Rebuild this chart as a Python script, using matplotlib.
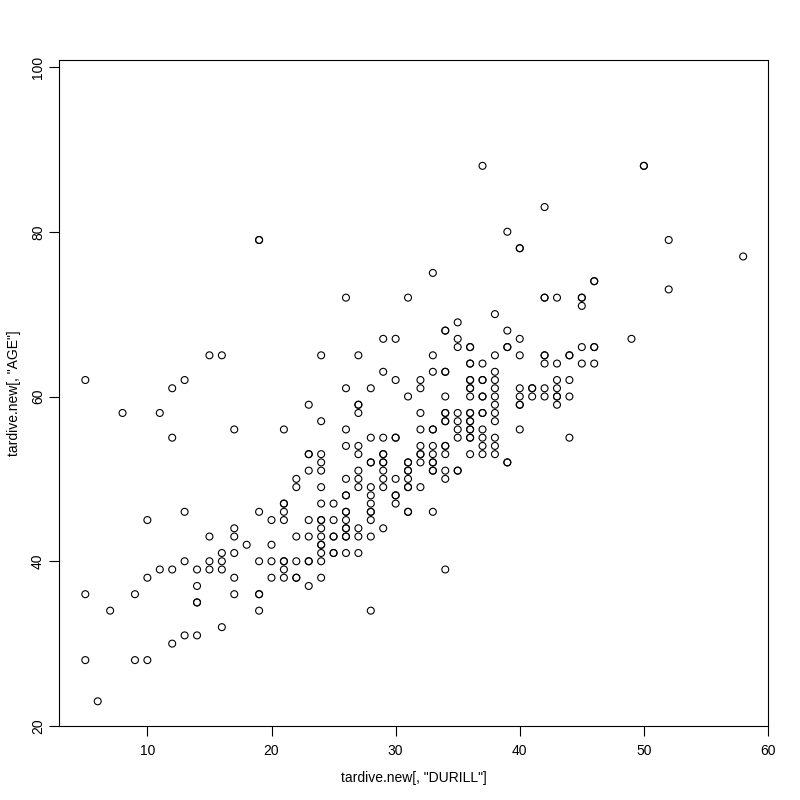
import matplotlib
matplotlib.use("Agg")
import matplotlib.pyplot as plt

# DURILL (x) and AGE (y), one line per DURILL value; repeated pairs are overplotted
durill = [
    5, 5, 5,
    6,
    7,
    8,
    9, 9,
    10, 10, 10,
    11, 11,
    12, 12, 12, 12,
    13, 13, 13, 13,
    14, 14, 14, 14, 14,
    15, 15, 15, 15,
    16, 16, 16, 16, 16,
    17, 17, 17, 17, 17, 17,
    18,
    19, 19, 19, 19, 19, 19, 19,
    20, 20, 20, 20,
    21, 21, 21, 21, 21, 21, 21, 21, 21,
    22, 22, 22, 22, 22, 22,
    23, 23, 23, 23, 23, 23, 23, 23, 23,
    24, 24, 24, 24, 24, 24, 24, 24, 24, 24, 24, 24, 24, 24, 24, 24,
    25, 25, 25, 25, 25, 25,
    26, 26, 26, 26, 26, 26, 26, 26, 26, 26, 26, 26, 26, 26, 26,
    27, 27, 27, 27, 27, 27, 27, 27, 27, 27, 27, 27,
    28, 28, 28, 28, 28, 28, 28, 28, 28, 28, 28, 28,
    29, 29, 29, 29, 29, 29, 29, 29, 29, 29, 29,
    30, 30, 30, 30, 30, 30, 30, 30,
    31, 31, 31, 31, 31, 31, 31, 31, 31, 31, 31,
    32, 32, 32, 32, 32, 32, 32, 32, 32,
    33, 33, 33, 33, 33, 33, 33, 33, 33, 33, 33, 33,
    34, 34, 34, 34, 34, 34, 34, 34, 34, 34, 34, 34, 34, 34, 34,
    35, 35, 35, 35, 35, 35, 35, 35, 35,
    36, 36, 36, 36, 36, 36, 36, 36, 36, 36, 36, 36, 36, 36, 36, 36, 36, 36,
    37, 37, 37, 37, 37, 37, 37, 37, 37, 37, 37, 37,
    38, 38, 38, 38, 38, 38, 38, 38, 38, 38, 38, 38,
    39, 39, 39, 39, 39, 39,
    40, 40, 40, 40, 40, 40, 40, 40, 40,
    41, 41, 41,
    42, 42, 42, 42, 42, 42, 42, 42,
    43, 43, 43, 43, 43, 43, 43,
    44, 44, 44, 44, 44,
    45, 45, 45, 45, 45,
    46, 46, 46, 46, 46,
    49,
    50, 50,
    52, 52,
    58,
]

age = [
    62, 36, 28,
    23,
    34,
    58,
    36, 28,
    45, 38, 28,
    58, 39,
    61, 55, 39, 30,
    62, 46, 40, 31,
    39, 37, 35, 35, 31,
    65, 43, 40, 39,
    65, 41, 40, 39, 32,
    56, 44, 43, 41, 38, 36,
    42,
    79, 79, 46, 40, 36, 36, 34,
    45, 42, 40, 38,
    56, 47, 47, 46, 45, 40, 40, 39, 38,
    50, 49, 43, 40, 38, 38,
    59, 53, 53, 51, 45, 43, 40, 40, 37,
    65, 57, 53, 52, 51, 49, 47, 45, 45, 44, 43, 42, 42, 41, 40, 38,
    47, 45, 43, 43, 41, 41,
    72, 61, 56, 54, 50, 48, 48, 46, 46, 45, 44, 44, 43, 43, 41,
    65, 59, 59, 58, 54, 53, 51, 50, 49, 44, 43, 41,
    61, 55, 52, 52, 49, 48, 47, 46, 46, 45, 43, 34,
    67, 63, 55, 53, 53, 52, 52, 51, 50, 49, 44,
    67, 62, 55, 55, 50, 48, 48, 47,
    72, 60, 52, 52, 51, 51, 50, 49, 49, 46, 46,
    62, 61, 58, 56, 54, 53, 53, 52, 49,
    75, 65, 63, 56, 56, 54, 53, 52, 52, 51, 51, 46,
    68, 68, 63, 63, 60, 58, 58, 57, 57, 54, 54, 53, 51, 50, 39,
    69, 67, 66, 58, 57, 56, 55, 51, 51,
    66, 66, 64, 64, 62, 62, 61, 61, 60, 58, 58, 57, 57, 56, 56, 55, 55, 53,
    88, 64, 62, 62, 60, 60, 58, 58, 56, 55, 54, 53,
    70, 65, 63, 62, 61, 60, 59, 58, 57, 55, 54, 53,
    80, 68, 66, 66, 52, 52,
    78, 78, 67, 65, 61, 60, 59, 59, 56,
    61, 61, 60,
    83, 72, 72, 65, 65, 64, 61, 60,
    72, 64, 62, 61, 60, 60, 59,
    65, 65, 62, 60, 55,
    72, 72, 71, 66, 64,
    74, 74, 66, 66, 64,
    67,
    88, 88,
    79, 73,
    77,
]

x_ticks = [10, 20, 30, 40, 50, 60]
y_ticks = [20, 40, 60, 80, 100]

plt.rcParams['font.family'] = ['Liberation Sans', 'DejaVu Sans']

fig = plt.figure(figsize=(8, 8), dpi=100)
ax = fig.add_axes([59 / 800, 1 - 726 / 800, 709 / 800, 666 / 800])

ax.scatter(durill, age, s=25, facecolors='none', edgecolors='black', linewidths=0.8)

ax.set_xlim(2.88, 60.0)
ax.set_ylim(20, 100.85)
ax.set_xticks(x_ticks)
ax.set_yticks(y_ticks)
ax.tick_params(direction='out', length=7, width=0.8, labelsize=10)
ax.tick_params(axis='x', pad=6)
ax.tick_params(axis='y', pad=3)
for lab in ax.get_yticklabels():
    lab.set_rotation(90)
    lab.set_va('center')
for sp in ax.spines.values():
    sp.set_linewidth(0.8)

fig.text(413.5 / 800, 1 - 778 / 800, 'tardive.new[, "DURILL"]', ha='center', va='center', fontsize=10)
fig.text(14 / 800, 1 - 393 / 800, 'tardive.new[, "AGE"]', ha='center', va='center', rotation=90, fontsize=10)

fig.savefig('out.png', dpi=100, facecolor='white')
